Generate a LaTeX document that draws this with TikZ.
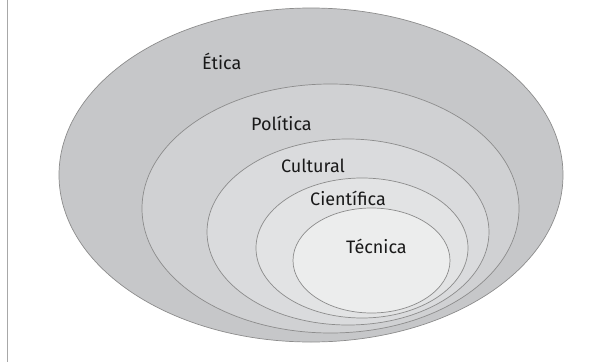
\documentclass[tikz,border=0pt]{standalone}
\usepackage{fontspec}
\setmainfont{Fira Sans}
\usetikzlibrary{shapes.geometric}
\definecolor{c1}{HTML}{C6C7C9}
\definecolor{c2}{HTML}{D0D1D3}
\definecolor{c3}{HTML}{DADBDD}
\definecolor{c4}{HTML}{E2E3E4}
\definecolor{c5}{HTML}{ECEDED}
\definecolor{edge}{HTML}{8C8C8C}
\definecolor{rule}{HTML}{A8A8A8}
\begin{document}
\begin{tikzpicture}[x=1pt,y=-1pt,
  ring/.style={ellipse, draw=edge, line width=0.7pt, inner sep=0pt},
  lbl/.style={anchor=base west, inner sep=0pt, font=\fontsize{18}{20}\selectfont, text=black!90}]
\useasboundingbox (0,0) rectangle (603,362);
\draw[rule, line width=1.2pt] (7.5,0) coordinate (r1) -- (7.5,362) coordinate (r2);
\node[ring, fill=c1, minimum width=504pt, minimum height=334pt] (etica) at (311,175) {};
\node[ring, fill=c2, minimum width=377pt, minimum height=249pt] (politica) at (330.5,208.5) {};
\node[ring, fill=c3, minimum width=282pt, minimum height=186pt] (cultural) at (348,232) {};
\node[ring, fill=c4, minimum width=212pt, minimum height=140pt] (cientifica) at (362,248) {};
\node[ring, fill=c5, minimum width=157pt, minimum height=105pt] (tecnica) at (371.5,260.5) {};
\node[lbl] (tetica) at (202,69) {Ética};
\node[lbl] (tpolitica) at (251,130) {Política};
\node[lbl] (tcultural) at (281,172) {Cultural};
\node[lbl] (tcientifica) at (310,205) {Científica};
\node[lbl] (ttecnica) at (346,253) {Técnica};
\end{tikzpicture}
\end{document}
